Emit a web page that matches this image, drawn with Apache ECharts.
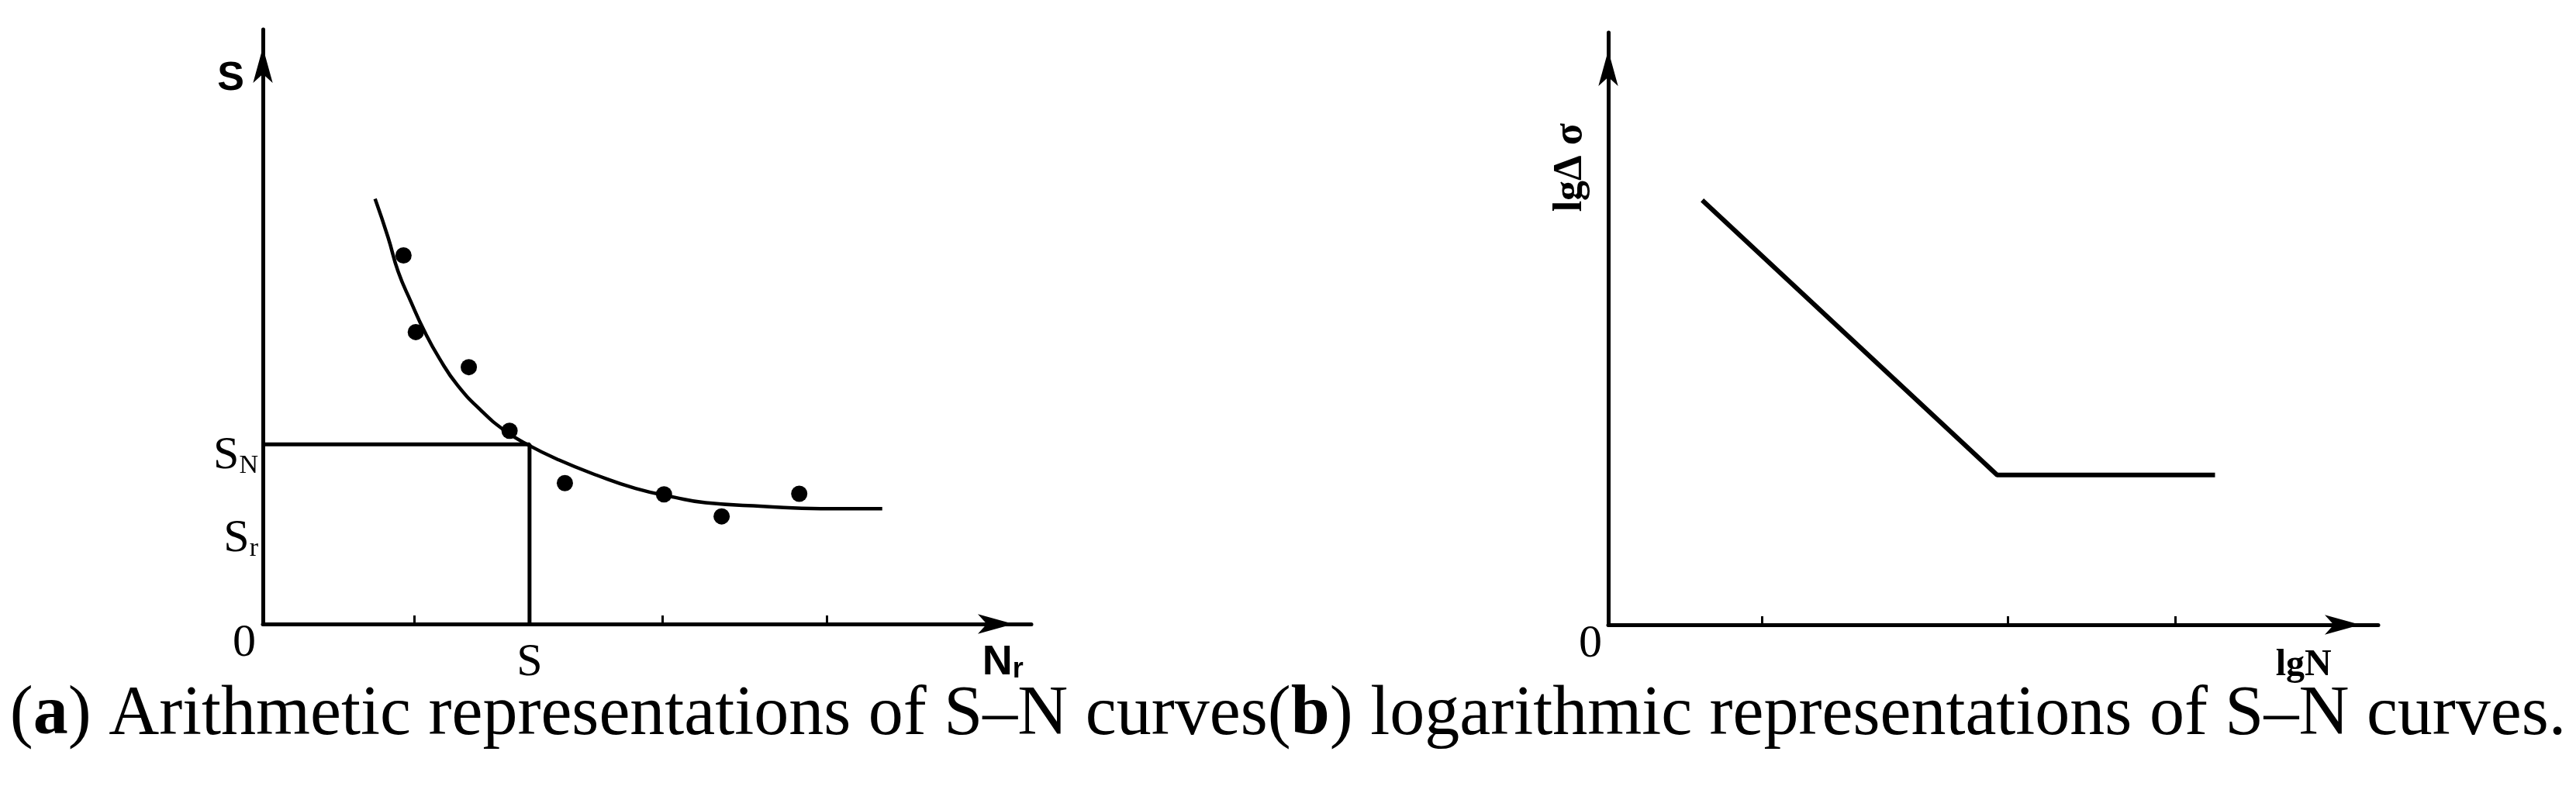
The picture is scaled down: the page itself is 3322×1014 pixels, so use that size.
<!DOCTYPE html>
<html>
<head>
<meta charset="utf-8">
<title>S-N curves</title>
<script src="https://cdn.jsdelivr.net/npm/echarts@6/dist/echarts.min.js"></script>
<style>
  html, body { margin: 0; padding: 0; background: #fff; }
  #chart { width: 3322px; height: 1014px; }
</style>
</head>
<body>
<div id="chart"></div>
<script>
// (a) arithmetic S-N curve, fitted line (axis units 0..100)
const curveX = [14.6, 16.3, 17.6, 19.3, 21.0, 23.0, 25.3, 28.4, 31.4, 34.4, 38.5, 43.5, 48.5, 53.6, 57.6, 65.1, 72.6, 80.6];
const curveY = [71.5, 65.0, 59.3, 54.1, 49.3, 44.6, 40.2, 35.9, 32.6, 30.2, 27.6, 25.0, 22.8, 21.3, 20.4, 19.8, 19.4, 19.4];
// test points
const dotX = [18.3, 19.9, 26.8, 32.1, 39.3, 52.2, 59.7, 69.8];
const dotY = [62.0, 49.1, 43.2, 32.5, 23.7, 21.8, 18.1, 21.9];
// guide line S_N -> S
const guideX = [0, 34.7, 34.7];
const guideY = [30.2, 30.2, 0];
const leftTicks = [19.7, 52.0, 73.4];
const leftXLabelVals = [0, 34.7, 96.3];
const leftXLabels = [['0', ''], ['S', ''], ['N', 'r']];
const leftYLabelVals = [91.7, 28.3, 14.3];
const leftYLabels = [['S', ''], ['S', 'N'], ['S', 'r']];

// (b) logarithmic S-N curve, bilinear
const logX = [12.2, 50.5, 78.8];
const logY = [71.7, 25.3, 25.3];
const rightTicks = [20.0, 51.9, 73.6];
const rightXLabelVals = [0, 90.3];
const rightXLabels = ['0', 'lgN'];
const rightYLabelVals = [77.2];
const rightYLabels = ['lgΔ σ'];

const captionA = ' Arithmetic representations of S–N curves';
const captionB = ' logarithmic representations of S–N curves.';

const ink = '#000';
const serif = 'Liberation Serif';
const sans = '"Liberation Sans Narrow", "Liberation Sans"';

function zip(xs, ys) {
  return xs.map((x, i) => [x, ys[i]]);
}

function arrowLine() {
  return {
    show: true,
    onZero: false,
    symbol: ['none', 'arrow'],
    symbolSize: [19, 46],
    symbolOffset: [0, -23],
    lineStyle: { color: ink, width: 5 }
  };
}

let chart = echarts.init(document.getElementById('chart'));

chart.setOption({
  animation: false,
  backgroundColor: '#fff',
  title: {
    text: '({b|a})' + captionA + '({b|b})' + captionB,
    left: 'center',
    top: 878,
    padding: 0,
    textStyle: {
      fontFamily: serif,
      fontSize: 90,
      fontWeight: 'normal',
      color: ink,
      rich: {
        b: { fontFamily: serif, fontSize: 90, fontWeight: 'bold', color: ink }
      }
    }
  },
  grid: [
    { left: 339, top: 38, width: 991, height: 767 },
    { left: 2074, top: 42, width: 993, height: 764 }
  ],
  xAxis: [
    {
      gridIndex: 0,
      type: 'value',
      min: 0,
      max: 100,
      axisLine: arrowLine(),
      splitLine: { show: false },
      axisTick: {
        show: true,
        inside: true,
        length: 11,
        customValues: leftTicks,
        lineStyle: { color: ink, width: 3 }
      },
      axisLabel: {
        customValues: leftXLabelVals,
        margin: 50,
        verticalAlign: 'middle',
        formatter: function (v) {
          let l = leftXLabels[leftXLabelVals.indexOf(v)];
          if (!l) return '';
          if (l[0] === '0') return '{zero|0}';
          if (l[1]) return '{n|' + l[0] + '}{sub|' + l[1] + '}';
          return '{s|' + l[0] + '}';
        },
        rich: {
          zero: { fontFamily: serif, fontSize: 60, color: ink, padding: [0, 48, 50, 0] },
          s: { fontFamily: serif, fontSize: 60, color: ink },
          n: { fontFamily: sans, fontSize: 54, fontWeight: 'bold', color: ink, verticalAlign: 'bottom' },
          sub: { fontFamily: sans, fontSize: 36, fontWeight: 'bold', color: ink, verticalAlign: 'bottom' }
        }
      }
    },
    {
      gridIndex: 1,
      type: 'value',
      min: 0,
      max: 100,
      axisLine: arrowLine(),
      splitLine: { show: false },
      axisTick: {
        show: true,
        inside: true,
        length: 11,
        customValues: rightTicks,
        lineStyle: { color: ink, width: 3 }
      },
      axisLabel: {
        customValues: rightXLabelVals,
        margin: 50,
        verticalAlign: 'middle',
        formatter: function (v) {
          let l = rightXLabels[rightXLabelVals.indexOf(v)];
          if (!l) return '';
          if (l === '0') return '{zero|0}';
          return '{lg|' + l + '}';
        },
        rich: {
          zero: { fontFamily: serif, fontSize: 60, color: ink, padding: [0, 46, 50, 0] },
          lg: { fontFamily: serif, fontSize: 48, fontWeight: 'bold', color: ink, padding: [6, 0, 0, 0] }
        }
      }
    }
  ],
  yAxis: [
    {
      gridIndex: 0,
      type: 'value',
      min: 0,
      max: 100,
      axisLine: arrowLine(),
      splitLine: { show: false },
      axisTick: { show: false },
      axisLabel: {
        customValues: leftYLabelVals,
        margin: 6,
        formatter: function (v) {
          let l = leftYLabels[leftYLabelVals.indexOf(v)];
          if (!l) return '';
          if (!l[1]) return '{top|' + l[0] + '}';
          return '{s|' + l[0] + '}{sub|' + l[1] + '}';
        },
        rich: {
          top: { fontFamily: sans, fontSize: 52, fontWeight: 'bold', color: ink, padding: [0, 18, 0, 0] },
          s: { fontFamily: serif, fontSize: 60, color: ink, verticalAlign: 'bottom' },
          sub: { fontFamily: serif, fontSize: 34, color: ink, verticalAlign: 'bottom' }
        }
      }
    },
    {
      gridIndex: 1,
      type: 'value',
      min: 0,
      max: 100,
      axisLine: arrowLine(),
      splitLine: { show: false },
      axisTick: { show: false },
      axisLabel: {
        customValues: rightYLabelVals,
        margin: 22,
        rotate: 90,
        formatter: function (v) {
          return rightYLabels[rightYLabelVals.indexOf(v)] || '';
        },
        fontFamily: serif,
        fontSize: 52,
        fontWeight: 'bold',
        color: ink
      }
    }
  ],
  series: [
    {
      type: 'line',
      xAxisIndex: 0,
      yAxisIndex: 0,
      data: zip(curveX, curveY),
      smooth: 0.5,
      showSymbol: false,
      lineStyle: { color: ink, width: 4.5 }
    },
    {
      type: 'scatter',
      xAxisIndex: 0,
      yAxisIndex: 0,
      data: zip(dotX, dotY),
      symbol: 'circle',
      symbolSize: 21,
      itemStyle: { color: ink, opacity: 1 }
    },
    {
      type: 'line',
      xAxisIndex: 0,
      yAxisIndex: 0,
      data: zip(guideX, guideY),
      showSymbol: false,
      lineStyle: { color: ink, width: 5 }
    },
    {
      type: 'line',
      xAxisIndex: 1,
      yAxisIndex: 1,
      data: zip(logX, logY),
      showSymbol: false,
      lineStyle: { color: ink, width: 6 }
    }
  ]
});

window.addEventListener('resize', function () {
  chart.resize();
});
</script>
</body>
</html>
